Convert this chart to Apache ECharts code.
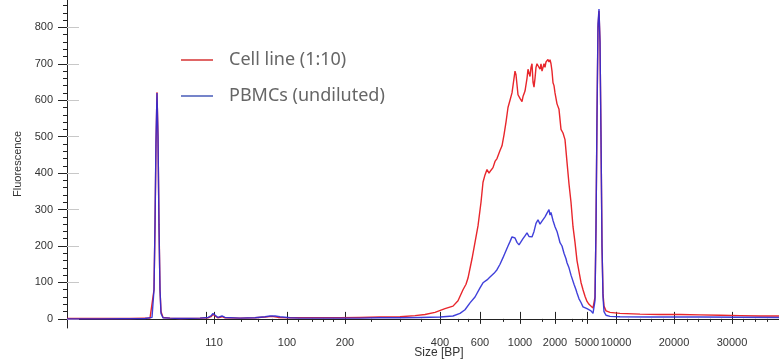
<!DOCTYPE html>
<html>
<head>
<meta charset="utf-8">
<script src="https://cdn.jsdelivr.net/npm/echarts@6/dist/echarts.min.js"></script>
<style>html,body{margin:0;padding:0;background:#fff}#c{width:779px;height:362px}</style>
</head>
<body>
<div id="c"></div>
<script>
// Migration position along the run (a.u.) and fluorescence
var cellX = [0,33,63,78,83,85,87,88,89,90,91,92,93,94,96,103,113,133,141,144,146,148,151,155,158,173,188,198,205,211,223,233,253,273,293,313,333,348,358,368,378,386,391,396,399,401,405,408,411,414,416,418,420,422,424,426,428,430,433,435,437,439,441,443,445,447,448,449,451,453,455,456,458,460,461,462,463,464,465,466,467,468,469,470,471,472,473,474,475,476,477,478,479,480,481,482,483,484,485,486,487,488,490,492,494,496,498,500,502,504,506,508,510,512,514,516,518,520,522,524,526,527,528,529,530,531,532,533,534,535,536,537,539,543,553,573,593,613,633,653,673,693,712];
var cellY = [1,1,1,2,2,5,80,250,480,622,500,260,80,20,4,2,1,2,3,6,12,8,3,6,3,2,3,5,7,4,3,3,3,3,4,5,6,9,12,18,28,35,50,80,95,112,165,210,255,320,375,395,410,400,408,415,432,440,462,475,505,540,580,600,620,660,680,670,615,605,596,610,625,660,685,680,665,690,700,650,636,660,690,700,695,705,685,700,680,676,700,690,705,700,712,705,711,700,680,648,640,620,590,575,520,510,492,430,370,320,253,210,160,130,100,80,62,48,40,35,30,32,60,250,550,800,845,760,500,200,70,35,22,18,15,13,12,12,11,10,9,8,8];
var pbmcX = [0,33,78,85,87,88,89,90,91,92,93,94,96,103,113,133,141,144,146,148,151,153,155,158,173,188,198,203,205,208,213,223,233,253,273,293,313,333,353,373,386,393,398,403,408,413,416,420,423,427,430,433,436,438,441,443,445,446,448,450,452,454,456,458,460,462,464,465,467,469,471,473,475,476,478,480,481,482,483,484,485,486,488,490,492,493,495,497,499,500,502,504,505,507,509,510,512,514,516,518,520,522,524,526,527,528,529,530,531,532,533,534,535,536,537,539,543,553,583,633,712];
var pbmcY = [0,0,1,4,80,260,490,620,500,250,80,15,3,2,1,2,4,8,15,10,4,6,8,4,2,3,6,8,11,8,6,3,2,2,2,2,3,3,4,5,8,15,25,44,60,85,99,107,115,125,135,150,168,181,200,212,225,222,222,210,203,208,220,228,236,226,230,225,240,262,272,260,268,266,280,290,294,300,285,292,291,270,253,240,220,209,200,180,165,154,140,120,115,95,80,71,55,45,33,35,28,25,22,15,12,50,250,560,810,850,760,500,200,60,20,10,7,6,5,5,4];

var seriesNames = ['Cell line (1:10)', 'PBMCs (undiluted)'];
var sizeTickPos = [147,220,278,373,413,453,488,520,549,607,665];
var sizeTickLabels = ['110','100','200','400','600','1000','2000','5000','10000','20000','30000'];
var extraMajorPos = [139];
var minorPos = [174,191,205,231,245,256,266,304,333,354,391,401,436,475,505,515,561,573,584,596,620,631,643,654,676,688,700];
var yMajor = [0,100,200,300,400,500,600,700,800];
var yMinor = [];
for (var v = 20; v < 880; v += 20) { if (v % 100 !== 0) yMinor.push(v); }

function pairs(xs, ys) { return xs.map(function (x, i) { return [x, ys[i]]; }); }
var labelMap = {};
sizeTickPos.forEach(function (p, i) { labelMap[p] = sizeTickLabels[i]; });
var majorTicks = sizeTickPos.concat(extraMajorPos).sort(function (a, b) { return a - b; });

var XMIN = 0, XMAX = 712, YMIN = -25, YMAX = 875;
var axisColor = '#222';
var lblFont = 'Liberation Sans';

var chart = echarts.init(document.getElementById('c'), null, {renderer: 'canvas'});
chart.setOption({
  animation: false,
  backgroundColor: '#fff',
  grid: {left: 67, right: 0, top: 0, bottom: 34, containLabel: false, outerBoundsMode: 'none'},
  legend: {
    orient: 'vertical', left: 180, top: 50, padding: 0,
    itemWidth: 32, itemHeight: 14, itemGap: 16,
    textStyle: {fontFamily: 'Noto Sans', fontSize: 18, color: '#666', lineHeight: 20, padding: [0,0,0,11]},
    data: [
      {name: seriesNames[0], itemStyle: {opacity: 0}, lineStyle: {color: '#e06666', width: 2}},
      {name: seriesNames[1], itemStyle: {opacity: 0}, lineStyle: {color: '#6677c4', width: 2}}
    ]
  },
  xAxis: [
    {type: 'value', min: XMIN, max: XMAX, position: 'bottom',
     name: 'Size [BP]', nameLocation: 'middle', nameGap: 19, nameMoveOverlap: false,
     nameTextStyle: {fontFamily: lblFont, fontSize: 12, color: '#333', padding: [0,0,0,32]},
     axisLine: {show: true, lineStyle: {color: axisColor, width: 1}},
     axisTick: {show: true, customValues: majorTicks, length: 5, lineStyle: {color: axisColor}},
     axisLabel: {show: true, customValues: sizeTickPos, margin: 9, fontFamily: lblFont, fontSize: 11, color: '#333',
       formatter: function (val) { return labelMap[val] || ''; }},
     splitLine: {show: false}},
    {type: 'value', min: XMIN, max: XMAX, position: 'bottom',
     axisLine: {show: false},
     axisTick: {show: true, inside: true, customValues: majorTicks, length: 7, lineStyle: {color: axisColor}},
     axisLabel: {show: false}, splitLine: {show: false}},
    {type: 'value', min: XMIN, max: XMAX, position: 'bottom',
     axisLine: {show: false},
     axisTick: {show: true, customValues: minorPos, length: 3, lineStyle: {color: axisColor}},
     axisLabel: {show: false}, splitLine: {show: false}}
  ],
  yAxis: [
    {type: 'value', min: YMIN, max: YMAX, position: 'left',
     name: 'Fluorescence', nameLocation: 'middle', nameGap: 44, nameMoveOverlap: false,
     nameTextStyle: {fontFamily: lblFont, fontSize: 11, color: '#333'},
     axisLine: {show: true, lineStyle: {color: axisColor, width: 1}},
     axisTick: {show: true, customValues: yMajor, length: 9, lineStyle: {color: axisColor}},
     axisLabel: {show: true, customValues: yMajor, margin: 14, fontFamily: lblFont, fontSize: 11, color: '#333'},
     splitLine: {show: false}},
    {type: 'value', min: YMIN, max: YMAX, position: 'left', offset: 0,
     axisLine: {show: false},
     axisTick: {show: true, customValues: yMinor, length: 4, lineStyle: {color: axisColor}},
     axisLabel: {show: false}, splitLine: {show: false}},
    {type: 'value', min: YMIN, max: YMAX, position: 'left', offset: 0,
     axisLine: {show: false},
     axisTick: {show: true, inside: true, customValues: yMajor, length: 12, lineStyle: {color: '#c8c8c8'}},
     axisLabel: {show: false}, splitLine: {show: false}}
  ],
  series: [
    {name: seriesNames[0], type: 'line', symbol: 'none', xAxisIndex: 0, yAxisIndex: 0,
     data: pairs(cellX, cellY), lineStyle: {color: '#e8262c', width: 1.4}, itemStyle: {color: '#e8262c'}, z: 2},
    {name: seriesNames[1], type: 'line', symbol: 'none', xAxisIndex: 0, yAxisIndex: 0,
     data: pairs(pbmcX, pbmcY), lineStyle: {color: '#2b2bd6', width: 1.4, opacity: 0.9}, itemStyle: {color: '#2b2bd6'}, z: 3}
  ]
});
</script>
</body>
</html>
